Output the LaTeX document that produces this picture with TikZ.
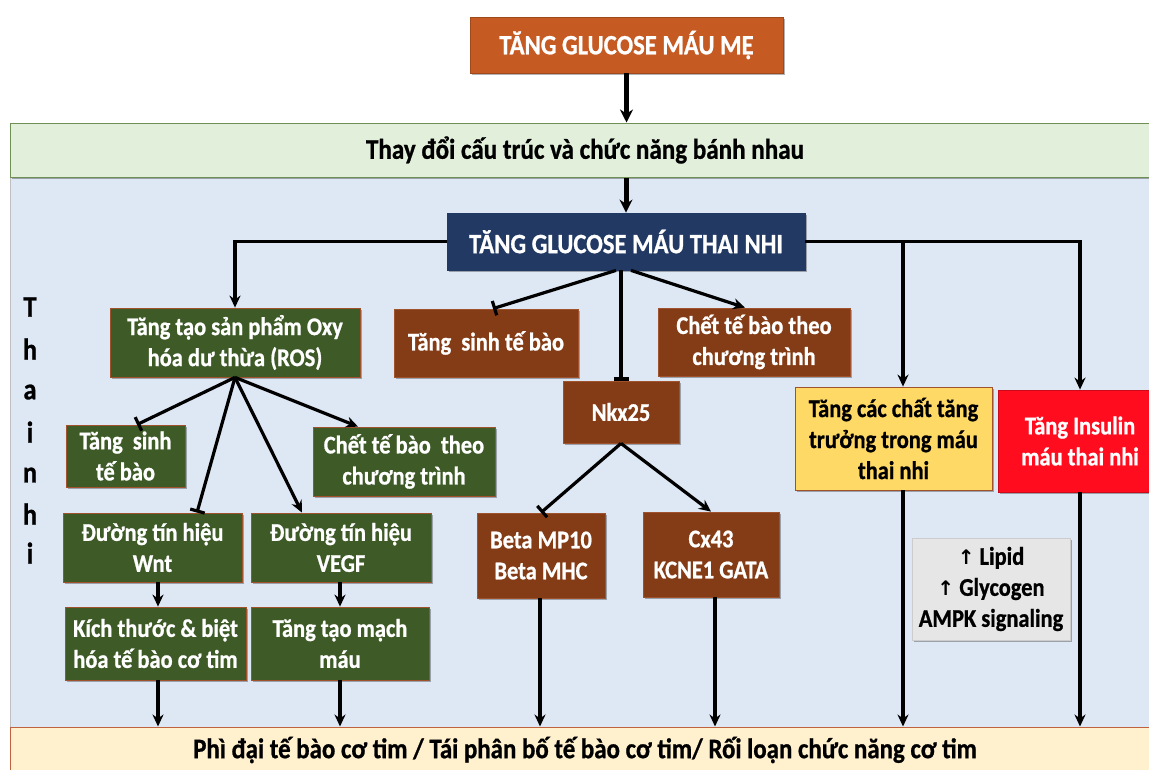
\documentclass[tikz,border=0pt]{standalone}
\usepackage{fontspec}
\setmainfont{Carlito}[FakeStretch=0.88,BoldFeatures={FakeBold=0.8}]
\newfontfamily\symf{DejaVu Sans}
\usetikzlibrary{arrows.meta,shadows,calc}
\definecolor{topor}{HTML}{C55A22}
\definecolor{topbd}{HTML}{A04A1C}
\definecolor{bandfill}{HTML}{E2EFDA}
\definecolor{bandbd}{HTML}{6F8F55}
\definecolor{bgblue}{HTML}{DDE8F4}
\definecolor{navy}{HTML}{223A63}
\definecolor{gfill}{HTML}{3D5A27}
\definecolor{bfill}{HTML}{843C16}
\definecolor{boxbd}{HTML}{A0522D}
\definecolor{yfill}{HTML}{FFD966}
\definecolor{rfill}{HTML}{FF0D1F}
\definecolor{grayfill}{HTML}{E6E6E6}
\definecolor{botfill}{HTML}{FFF0CE}
\definecolor{botbd}{HTML}{C0623D}
\tikzset{
 shad/.style={drop shadow={shadow xshift=1.5pt,shadow yshift=-1.5pt,fill=black,opacity=.3}},
 box/.style={shad, draw=boxbd, line width=0.8pt, inner sep=2pt, align=center, text=white,
   font=\bfseries\fontsize{25.5}{31}\selectfont},
 gbox/.style={box, fill=gfill},
 bbox/.style={box, fill=bfill},
 arr/.style={line width=3.2pt, -{Stealth[length=12pt,width=11pt]}},
 inh/.style={line width=3.2pt, -{Bar[width=15pt,line width=3.2pt]}},
 bigarr/.style={line width=5pt, -{Stealth[length=13pt,width=13pt]}},
 letter/.style={font=\bfseries\fontsize{30}{30}\selectfont, text=black},
}
\begin{document}
\begin{tikzpicture}[x=1pt,y=-1pt]
\useasboundingbox (0,0) rectangle (1149,769);
\fill[white] (0,0) rectangle (1149,769);
% background of fetus area
\draw[fill=bgblue, draw=gray!50, line width=0.8pt] (10,177) rectangle (1160,727);
% band
\node[shad, draw=bandbd, fill=bandfill, line width=1pt, minimum width=1150pt, minimum height=54pt, inner sep=0,
  font=\bfseries\fontsize{28.5}{30}\selectfont] (band) at (585,150) {Thay đổi cấu trúc và chức năng bánh nhau};
% top
\node[box, fill=topor, draw=topbd, minimum width=313pt, minimum height=56pt,
  font=\bfseries\fontsize{28}{30}\selectfont] (top) at (626.5,45) {TĂNG GLUCOSE MÁU MẸ};
% navy
\node[box, fill=navy, draw=navy, minimum width=358pt, minimum height=57pt,
  font=\bfseries\fontsize{28}{30}\selectfont] (navy) at (626,241.5) {TĂNG GLUCOSE MÁU THAI NHI};
% bottom band
\node[draw=botbd, fill=botfill, line width=1pt, minimum width=1150pt, minimum height=48pt, inner sep=0] (bot) at (585,751) {};
\node[font=\bfseries\fontsize{28.3}{30}\selectfont] (bottxt) at (585,750) {Phì đại tế bào cơ tim / Tái phân bố tế bào cơ tim/ Rối loạn chức năng cơ tim};
% second row
\node[gbox, minimum width=250pt, minimum height=69pt] (ros) at (235,342.5) {Tăng tạo sản phẩm Oxy\\hóa dư thừa (ROS)};
\node[bbox, minimum width=184pt, minimum height=68pt] (tsm) at (486,343) {Tăng\ \ sinh tế bào};
\node[bbox, minimum width=192pt, minimum height=68pt] (ctm) at (754,342) {Chết tế bào theo\\chương trình};
\node[bbox, minimum width=116pt, minimum height=62pt] (nkx) at (621,412) {Nkx25};
\node[box, fill=yfill, text=black, minimum width=197pt, minimum height=103pt] (yel) at (893.5,438.5) {Tăng các chất tăng\\trưởng trong máu\\thai nhi};
\node[box, fill=rfill, draw=rfill!80!black, minimum width=164pt, minimum height=102pt] (red) at (1080,441) {Tăng Insulin\\máu thai nhi};
\node[box, fill=grayfill, draw=gray!40, text=black, minimum width=158pt, minimum height=102pt] (gray) at (991,589) {{\symf\bfseries\fontsize{20}{31}\selectfont ↑} Lipid\\{\symf\bfseries\fontsize{20}{31}\selectfont ↑} Glycogen\\AMPK signaling};
% left column
\node[gbox, minimum width=119pt, minimum height=62pt] (tsl) at (125.5,456) {Tăng\ \ sinh\\tế bào};
\node[gbox, minimum width=182pt, minimum height=69pt] (ctl) at (404,461.5) {Chết tế bào\ \ theo\\chương trình};
\node[gbox, minimum width=179pt, minimum height=69pt] (wnt) at (152.5,547.5) {Đường tín hiệu\\Wnt};
\node[gbox, minimum width=180pt, minimum height=69pt] (vegf) at (341,547.5) {Đường tín hiệu\\VEGF};
\node[gbox, minimum width=181pt, minimum height=73pt] (kich) at (155.5,643.5) {Kích thước \& biệt\\hóa tế bào cơ tim};
\node[gbox, minimum width=178pt, minimum height=73pt] (mach) at (340,643.5) {Tăng tạo mạch\\máu};
\node[bbox, minimum width=128pt, minimum height=85pt] (beta) at (541,555.5) {Beta MP10\\Beta MHC};
\node[bbox, minimum width=136pt, minimum height=85pt] (cx) at (711,554.5) {Cx43\\KCNE1 GATA};
% Thai nhi letters
\node[letter] (l1) at (30,307) {T};
\node[letter] (l2) at (30,349) {h};
\node[letter] (l3) at (30,392) {a};
\node[letter] (l4) at (30,432) {i};
\node[letter] (l5) at (30,475) {n};
\node[letter] (l6) at (30,514) {h};
\node[letter] (l7) at (30,553) {i};
% connectors
\draw[bigarr] (top.south) -- (top.south |- band.north);
\draw[bigarr] (navy.north |- band.south) -- (navy.north);
\draw[arr] (navy.west) -| (ros.north);
\coordinate (yt) at ([xshift=9.5pt]yel.north);
\draw[arr] (navy.east) -| (yt);
\draw[arr] (navy.east) -| (red.north);
\draw[inh] ([xshift=-10pt]navy.south) -- ([xshift=7pt]tsm.north);
\draw[arr] ([xshift=5pt]navy.south) -- ([xshift=-9pt]ctm.north);
\draw[inh] (nkx.north |- navy.south) -- (nkx.north);
\draw[inh] (ros.south) -- ([xshift=11.5pt]tsl.north);
\draw[inh] (ros.south) -- ([xshift=44.5pt]wnt.north);
\draw[arr] (ros.south) -- ([xshift=-39pt]vegf.north);
\draw[arr] (ros.south) -- ([xshift=-46pt]ctl.north);
\coordinate (wa) at ([xshift=5.5pt]wnt.south);
\draw[arr] (wa) -- (wa |- kich.north);
\draw[arr] (mach.north |- vegf.south) -- (mach.north);
\coordinate (ka) at ([xshift=2.5pt]kich.south);
\draw[arr] (ka) -- (ka |- bot.north);
\draw[arr] (mach.south) -- (mach.south |- bot.north);
\draw[inh] (nkx.south) -- (beta.north);
\draw[arr] (nkx.south) -- (cx.north);
\coordinate (ba) at ([xshift=-1pt]beta.south);
\draw[arr] (ba) -- (ba |- bot.north);
\coordinate (ca) at ([xshift=4pt]cx.south);
\draw[arr] (ca) -- (ca |- bot.north);
\coordinate (ya) at ([xshift=9.5pt]yel.south);
\draw[arr] (ya) -- (ya |- bot.north);
\draw[arr] (red.south) -- (red.south |- bot.north);
\end{tikzpicture}
\end{document}
